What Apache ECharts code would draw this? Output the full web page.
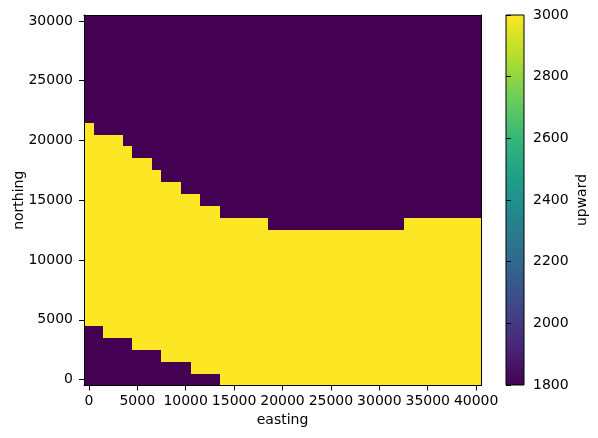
<!DOCTYPE html>
<html>
<head>
<meta charset="utf-8">
<script src="https://cdn.jsdelivr.net/npm/echarts@6/dist/echarts.min.js"></script>
<style>
html,body{margin:0;padding:0;background:#fff;}
#chart{width:598px;height:438px;}
</style>
</head>
<body>
<div id="chart"></div>
<script>
// Grid coordinates (cell centres)
const eastings = [0,1000,2000,3000,4000,5000,6000,7000,8000,9000,10000,11000,12000,13000,14000,15000,16000,17000,18000,19000,20000,21000,22000,23000,24000,25000,26000,27000,28000,29000,30000,31000,32000,33000,34000,35000,36000,37000,38000,39000,40000];
const northings = [0,1000,2000,3000,4000,5000,6000,7000,8000,9000,10000,11000,12000,13000,14000,15000,16000,17000,18000,19000,20000,21000,22000,23000,24000,25000,26000,27000,28000,29000,30000];
// Per easting column: northing of the highest "high" (3000) cell
const highTop = [21000,20000,20000,20000,19000,18000,18000,17000,16000,16000,15000,15000,14000,14000,13000,13000,13000,13000,13000,12000,12000,12000,12000,12000,12000,12000,12000,12000,12000,12000,12000,12000,12000,13000,13000,13000,13000,13000,13000,13000,13000];
// Per easting column: northing of the highest "low" cell at the bottom (null = none)
const lowBottomTop = [4000,4000,3000,3000,3000,2000,2000,2000,1000,1000,1000,0,0,0,null,null,null,null,null,null,null,null,null,null,null,null,null,null,null,null,null,null,null,null,null,null,null,null,null,null,null];
const lowValue = 1800;
const highValue = 3000;
const xTicks = [0,5000,10000,15000,20000,25000,30000,35000,40000];
const yTicks = [0,5000,10000,15000,20000,25000,30000];
const cbarMin = 1800, cbarMax = 3000, cbarStep = 200;
const viridis = ['#440154','#482878','#3e4a89','#31688e','#26828e','#1f9e89','#35b779','#6ece58','#b5de2b','#fde725'];

const cells = [];
eastings.forEach((e, i) => {
  northings.forEach(n => {
    let v = lowValue;
    if (n <= highTop[i] && !(lowBottomTop[i] !== null && n <= lowBottomTop[i])) v = highValue;
    cells.push([e, n, v]);
  });
});

const FONT = 'DejaVu Sans';
const FS = 14;
const black = '#000';
const plain = v => String(v);

const chart = echarts.init(document.getElementById('chart'), null, {renderer:'canvas'});
chart.setOption({
  animation: false,
  backgroundColor: '#fff',
  grid: [
    {left: 84, top: 15, width: 397, height: 370.5, containLabel: false, outerBoundsMode: 'none'},
    {left: 506, top: 15, width: 18, height: 370, containLabel: false, outerBoundsMode: 'none'}
  ],
  visualMap: {
    type: 'continuous', show: false, min: cbarMin, max: cbarMax, dimension: 2,
    seriesIndex: 0, inRange: {color: viridis}
  },
  xAxis: [
    {
      gridIndex: 0, type: 'value', min: -500, max: 40500, position: 'bottom', z: 10,
      axisLine: {show: true, onZero: false, lineStyle: {color: black, width: 1}},
      axisTick: {show: true, length: 5, lineStyle: {color: black, width: 1}, customValues: xTicks},
      axisLabel: {customValues: xTicks, formatter: plain, hideOverlap: false, showMinLabel: true, showMaxLabel: true,
        margin: 9, color: black, fontSize: FS, fontFamily: FONT},
      splitLine: {show: false},
      name: 'easting', nameLocation: 'middle', nameGap: 28, nameMoveOverlap: false,
      nameTextStyle: {color: black, fontSize: FS, fontFamily: FONT}
    },
    {
      gridIndex: 0, type: 'value', min: -500, max: 40500, position: 'top', z: 10,
      axisLine: {show: true, onZero: false, lineStyle: {color: black, width: 1}},
      axisTick: {show: false}, axisLabel: {show: false}, splitLine: {show: false}
    },
    {
      gridIndex: 1, type: 'value', min: 0, max: 1, show: false
    }
  ],
  yAxis: [
    {
      gridIndex: 0, type: 'value', min: -500, max: 30500, position: 'left', z: 10,
      axisLine: {show: true, onZero: false, lineStyle: {color: black, width: 1}},
      axisTick: {show: true, length: 5, lineStyle: {color: black, width: 1}, customValues: yTicks},
      axisLabel: {customValues: yTicks, formatter: plain, hideOverlap: false, showMinLabel: true, showMaxLabel: true,
        margin: 11, color: black, fontSize: FS, fontFamily: FONT},
      splitLine: {show: false},
      name: 'northing', nameLocation: 'middle', nameGap: 58, nameRotate: 90, nameMoveOverlap: false,
      nameTextStyle: {color: black, fontSize: FS, fontFamily: FONT}
    },
    {
      gridIndex: 0, type: 'value', min: -500, max: 30500, position: 'right', z: 10,
      axisLine: {show: true, onZero: false, lineStyle: {color: black, width: 1}},
      axisTick: {show: false}, axisLabel: {show: false}, splitLine: {show: false}
    },
    {
      gridIndex: 1, type: 'value', min: cbarMin, max: cbarMax, interval: cbarStep, position: 'right', z: 10,
      axisLine: {show: false},
      axisTick: {show: true, length: 5, lineStyle: {color: black, width: 1}},
      axisLabel: {formatter: plain, margin: 9, color: black, fontSize: FS, fontFamily: FONT},
      splitLine: {show: false},
      name: 'upward', nameLocation: 'middle', nameGap: 51, nameRotate: 90, nameMoveOverlap: false,
      nameTextStyle: {color: black, fontSize: FS, fontFamily: FONT}
    }
  ],
  series: [
    {
      type: 'custom', xAxisIndex: 0, yAxisIndex: 0, z: 2,
      data: cells,
      encode: {x: 0, y: 1},
      renderItem: function (params, api) {
        const e = api.value(0), n = api.value(1);
        const p0 = api.coord([e - 500, n + 500]);
        const p1 = api.coord([e + 500, n - 500]);
        const x0 = Math.round(p0[0]), y0 = Math.round(p0[1]);
        const x1 = Math.round(p1[0]), y1 = Math.round(p1[1]);
        return {
          type: 'rect',
          shape: {x: x0, y: y0, width: x1 - x0, height: y1 - y0},
          style: {fill: api.visual('color')}
        };
      }
    },
    {
      type: 'custom', xAxisIndex: 2, yAxisIndex: 2, z: 2,
      data: [[0, cbarMin, cbarMax]],
      renderItem: function (params, api) {
        const p0 = api.coord([0, api.value(2)]);
        const p1 = api.coord([1, api.value(1)]);
        const stops = viridis.map((c, i) => ({offset: i / (viridis.length - 1), color: c}));
        return {
          type: 'rect',
          shape: {x: p0[0], y: p0[1], width: p1[0] - p0[0], height: p1[1] - p0[1]},
          style: {
            fill: {type: 'linear', x: 0, y: 1, x2: 0, y2: 0, colorStops: stops},
            stroke: black, lineWidth: 1
          }
        };
      }
    }
  ]
});
</script>
</body>
</html>
